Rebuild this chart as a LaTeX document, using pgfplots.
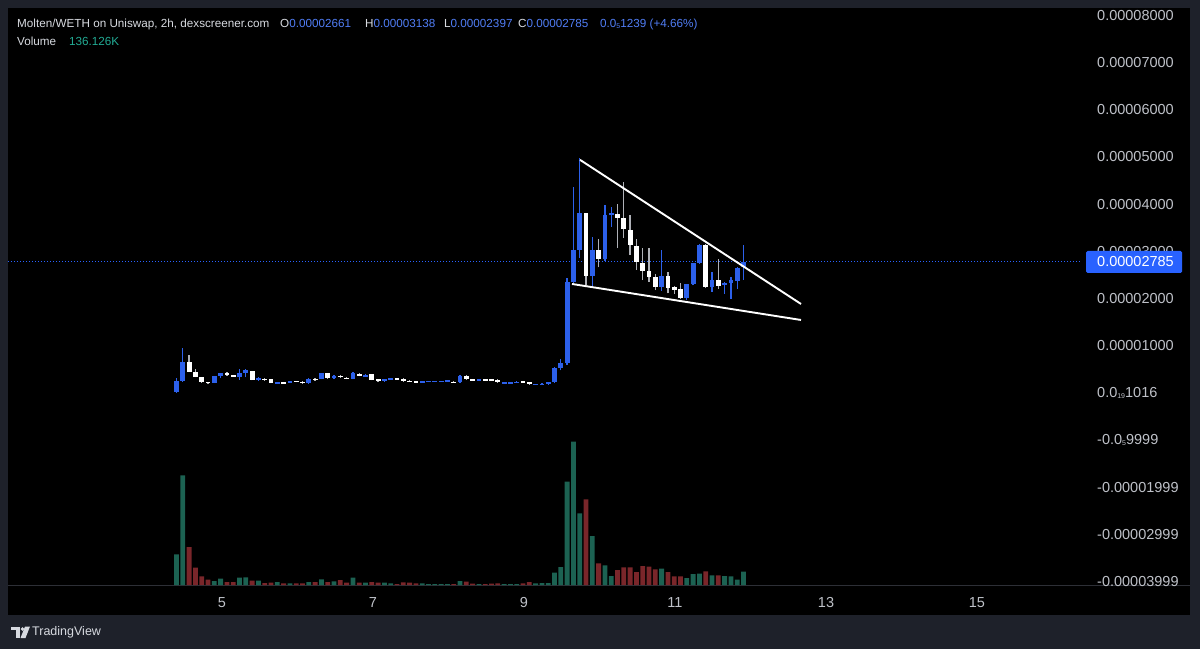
\documentclass[border=0pt]{standalone}
\usepackage{fontspec}
\setmainfont{Liberation Sans}
\usepackage{pgfplots}
\usepackage{pgfplotstable}
\pgfplotsset{compat=1.18}
\definecolor{frame}{RGB}{30,33,42}
\definecolor{tvblue}{RGB}{41,98,255}
\definecolor{candleblue}{RGB}{44,96,235}
\definecolor{volgreen}{RGB}{28,98,82}
\definecolor{volred}{RGB}{122,38,42}
\definecolor{ticktext}{RGB}{190,193,200}
\definecolor{lbl}{RGB}{215,218,224}
\definecolor{valblue}{RGB}{80,125,245}
\definecolor{tealv}{RGB}{34,171,148}
\definecolor{wickgray}{RGB}{175,177,183}
\definecolor{paneline}{RGB}{45,47,54}

% candles that closed up (blue body, green volume): index, open, high, low, close (x 1e-5), volume
\pgfplotstableread{
i o h l c v
0 0.02 0.32 0.01 0.26 30.7
1 0.26 0.95 0.24 0.66 109.7
6 0.22 0.36 0.21 0.35 4.0
7 0.35 0.43 0.31 0.42 6.3
10 0.33 0.50 0.28 0.43 7.3
11 0.42 0.50 0.33 0.48 7.7
13 0.28 0.33 0.26 0.31 4.3
16 0.21 0.24 0.20 0.23 3.0
18 0.22 0.26 0.21 0.25 1.7
21 0.21 0.31 0.20 0.30 3.0
23 0.30 0.43 0.29 0.42 5.7
25 0.31 0.38 0.30 0.37 3.7
28 0.30 0.45 0.29 0.42 7.3
30 0.35 0.41 0.34 0.39 2.3
33 0.25 0.30 0.24 0.29 2.3
34 0.29 0.32 0.28 0.31 1.7
39 0.23 0.25 0.22 0.24 1.7
40 0.24 0.26 0.23 0.25 1.0
41 0.24 0.26 0.23 0.25 1.0
42 0.24 0.26 0.23 0.25 1.0
43 0.25 0.26 0.24 0.26 1.0
45 0.23 0.38 0.22 0.37 4.0
48 0.28 0.30 0.27 0.29 1.0
52 0.21 0.23 0.20 0.22 1.0
53 0.21 0.23 0.20 0.22 1.0
54 0.22 0.25 0.21 0.24 1.0
57 0.18 0.20 0.17 0.19 1.7
58 0.18 0.21 0.17 0.20 2.0
59 0.19 0.24 0.18 0.23 2.0
60 0.23 0.56 0.22 0.54 12.3
61 0.54 0.72 0.48 0.63 18.0
62 0.63 2.44 0.60 2.36 103.3
63 2.36 4.37 2.33 3.03 143.3
64 3.03 4.97 2.86 3.81 71.7
66 2.48 3.30 2.25 3.03 49.0
68 2.83 3.98 2.80 3.77 19.7
69 3.77 3.94 3.52 3.82 9.0
77 2.25 3.02 2.17 2.48 16.3
81 2.01 2.30 1.96 2.30 7.0
82 2.30 2.75 2.28 2.75 11.0
83 2.75 3.15 2.74 3.14 11.3
85 2.24 2.57 2.15 2.39 9.7
87 2.29 2.35 2.10 2.34 9.0
88 2.34 2.45 2.00 2.39 8.7
89 2.38 2.66 2.20 2.65 5.3
90 2.661 3.138 2.397 2.785 13.3
}\upcandles

% candles that closed down (white body, red volume)
\pgfplotstableread{
i o h l c v
2 0.66 0.80 0.44 0.45 38.0
3 0.45 0.50 0.33 0.34 17.3
4 0.33 0.34 0.22 0.23 8.7
5 0.23 0.24 0.19 0.22 5.3
8 0.42 0.44 0.37 0.38 3.0
9 0.38 0.39 0.34 0.36 3.0
12 0.46 0.47 0.27 0.28 4.3
14 0.30 0.31 0.26 0.29 2.0
15 0.29 0.30 0.21 0.22 2.3
17 0.22 0.23 0.20 0.21 1.7
19 0.25 0.26 0.23 0.24 1.7
20 0.24 0.25 0.20 0.21 1.7
22 0.30 0.31 0.26 0.29 3.0
24 0.42 0.43 0.30 0.31 3.0
26 0.37 0.38 0.32 0.33 5.0
27 0.32 0.33 0.29 0.30 2.3
29 0.40 0.43 0.35 0.36 2.3
31 0.40 0.41 0.27 0.28 3.0
32 0.29 0.30 0.24 0.25 2.3
35 0.31 0.32 0.29 0.30 1.0
36 0.30 0.31 0.24 0.25 2.7
37 0.26 0.27 0.23 0.24 2.3
38 0.24 0.25 0.22 0.23 1.7
44 0.24 0.25 0.21 0.22 1.0
46 0.37 0.38 0.28 0.29 3.3
47 0.29 0.30 0.27 0.28 1.3
49 0.29 0.30 0.27 0.28 1.0
50 0.28 0.29 0.26 0.27 1.3
51 0.28 0.29 0.22 0.23 1.7
55 0.24 0.25 0.22 0.23 1.7
56 0.23 0.24 0.18 0.19 3.0
65 3.81 3.82 2.29 2.48 85.7
67 3.03 3.26 2.66 2.83 21.7
70 3.80 4.00 3.07 3.70 15.0
71 3.70 4.46 3.28 3.47 17.7
72 3.45 3.77 2.92 3.14 17.7
73 3.12 3.26 2.61 2.77 13.0
74 2.76 3.07 2.39 2.59 19.0
75 2.59 3.07 2.36 2.45 18.3
76 2.45 2.52 2.18 2.25 15.7
78 2.48 2.56 2.11 2.22 13.0
79 2.24 2.26 2.10 2.18 8.7
80 2.20 2.33 2.00 2.02 8.7
84 3.14 3.15 2.22 2.24 13.7
86 2.39 2.84 2.20 2.27 9.7
}\downcandles

\newcommand{\tickfont}{\fontsize{14.5}{16}\selectfont}
\newcommand{\hdrfont}{\fontsize{11.7}{14}\selectfont}
\newcommand{\zsub}[1]{\raisebox{-1.2pt}{\fontsize{7}{7}\selectfont #1}}

\begin{document}
\begin{tikzpicture}
\fill[frame] (0pt,0pt) rectangle (1200pt,649pt);
\fill[black] (8pt,34pt) rectangle (1190pt,641pt);
\draw[paneline, line width=0.8pt] (8pt,64pt) -- (1190pt,64pt);

% volume pane (same x scale as price)
\begin{axis}[at={(8pt,64pt)}, anchor=south west, scale only axis,
  width=1074pt, height=577pt,
  xmin=-26.75, xmax=143.73, ymin=0, ymax=577, hide axis]
\addplot[ybar, bar width=4.8pt, bar shift=0pt, fill=volgreen, draw=none] table[x=i, y=v] {\upcandles};
\addplot[ybar, bar width=4.8pt, bar shift=0pt, fill=volred, draw=none] table[x=i, y=v] {\downcandles};
\end{axis}

% price pane
\begin{axis}[at={(8pt,64pt)}, anchor=south west, scale only axis,
  width=1074pt, height=577pt,
  xmin=-26.75, xmax=143.73, ymin=-4.068, ymax=8.157,
  axis line style={draw=none}, tick style={draw=none}, major tick length=0pt,
  /pgf/number format/assume math mode=true,
  xtick={7.22,31.19,55.16,79.13,103.1,127.06},
  xticklabels={5,7,9,11,13,15},
  xticklabel style={anchor=center, yshift=-18pt, inner sep=0pt, font=\tickfont, text=ticktext},
  ytick={-4,-3,-2,-1,0,1,2,3,4,5,6,7,8},
  yticklabels={-0.00003999,-0.00002999,-0.00001999,-0.0\zsub{5}9999,0.0\zsub{19}1016,0.00001000,0.00002000,0.00003000,0.00004000,0.00005000,0.00006000,0.00007000,0.00008000},
  yticklabel pos=right,
  yticklabel style={anchor=west, inner sep=0pt, xshift=15pt, font=\tickfont, text=ticktext},
]
% last price line
\addplot[tvblue, line width=0.9pt, dash pattern=on 1pt off 2pt, forget plot] coordinates {(-26.75,2.785) (143.73,2.785)};
% wicks
\addplot[draw=none, mark=none, forget plot, error bars/.cd, y dir=plus, y explicit, error mark=none,
  error bar style={line width=1.3pt, draw=candleblue}]
  table[x=i, y=l, y error plus expr={\thisrow{h}-\thisrow{l}}] {\upcandles};
\addplot[draw=none, mark=none, forget plot, error bars/.cd, y dir=plus, y explicit, error mark=none,
  error bar style={line width=1.3pt, draw=wickgray}]
  table[x=i, y=l, y error plus expr={\thisrow{h}-\thisrow{l}}] {\downcandles};
% bodies
\addplot[draw=none, mark=none, forget plot, error bars/.cd, y dir=both, y explicit, error mark=none,
  error bar style={line width=4.8pt, draw=candleblue, line cap=butt}]
  table[x=i, y expr={(\thisrow{o}+\thisrow{c})/2}, y error expr={max(abs(\thisrow{c}-\thisrow{o})/2,0.011)}] {\upcandles};
\addplot[draw=none, mark=none, forget plot, error bars/.cd, y dir=both, y explicit, error mark=none,
  error bar style={line width=4.8pt, draw=white, line cap=butt}]
  table[x=i, y expr={(\thisrow{o}+\thisrow{c})/2}, y error expr={max(abs(\thisrow{c}-\thisrow{o})/2,0.011)}] {\downcandles};
% falling wedge lines
\addplot[white, line width=1.9pt, forget plot] coordinates {(64.05,4.94) (99.13,1.886)};
\addplot[white, line width=1.9pt, forget plot] coordinates {(62.78,2.31) (99.13,1.547)};
\end{axis}

% last price box
\fill[tvblue, rounded corners=1.5pt] (1086pt,376pt) rectangle (1182pt,398pt);
\node[anchor=west, inner sep=0pt, text=white, font=\tickfont] at (1097pt,387pt) {0.00002785};

% header
\node[anchor=base west, inner sep=0pt, text=lbl, font=\hdrfont] at (17pt,621.5pt) {Molten/WETH on Uniswap, 2h, dexscreener.com};
\node[anchor=base west, inner sep=0pt, font=\hdrfont] at (280pt,621.5pt) {\textcolor{lbl}{O}\textcolor{valblue}{0.00002661}};
\node[anchor=base west, inner sep=0pt, font=\hdrfont] at (365pt,621.5pt) {\textcolor{lbl}{H}\textcolor{valblue}{0.00003138}};
\node[anchor=base west, inner sep=0pt, font=\hdrfont] at (444pt,621.5pt) {\textcolor{lbl}{L}\textcolor{valblue}{0.00002397}};
\node[anchor=base west, inner sep=0pt, font=\hdrfont] at (518pt,621.5pt) {\textcolor{lbl}{C}\textcolor{valblue}{0.00002785}};
\node[anchor=base west, inner sep=0pt, font=\hdrfont, text=valblue] at (600pt,621.5pt) {0.0\zsub{5}1239 (+4.66\%)};
\node[anchor=base west, inner sep=0pt, text=lbl, font=\hdrfont] at (17pt,603.5pt) {Volume};
\node[anchor=base west, inner sep=0pt, text=tealv, font=\hdrfont] at (69pt,603.5pt) {136.126K};

% footer logo
\fill[lbl] (11pt,19pt) rectangle (20pt,22.5pt);
\fill[lbl] (16pt,11pt) rectangle (20pt,22.5pt);
\fill[lbl] (22.5pt,20pt) circle (1.8pt);
\fill[lbl] (25pt,22.5pt) -- (30pt,22.5pt) -- (25.5pt,11pt) -- (20.5pt,11pt) -- cycle;
\node[anchor=west, inner sep=0pt, text=lbl, font=\fontsize{12.5}{14}\selectfont] at (32pt,17pt) {TradingView};
\end{tikzpicture}
\end{document}
